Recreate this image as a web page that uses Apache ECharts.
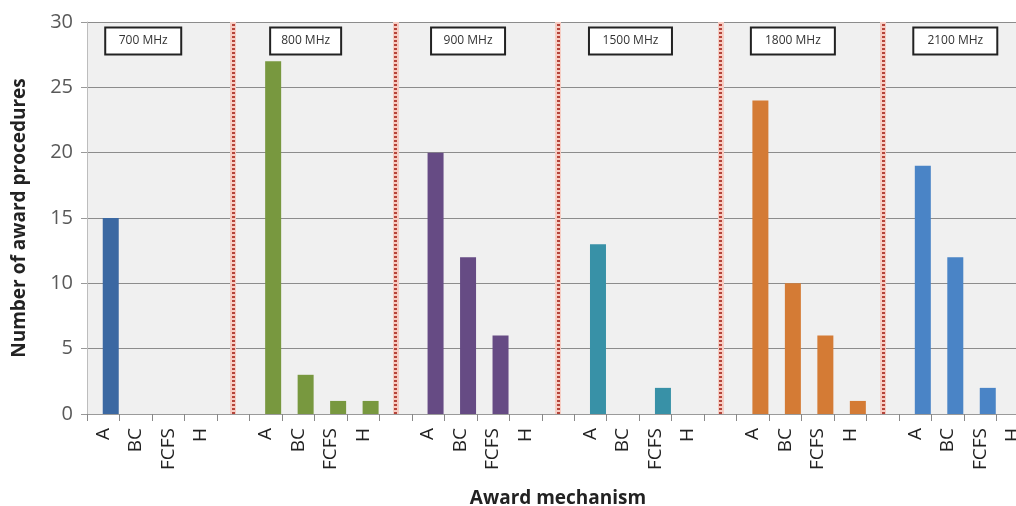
<!DOCTYPE html>
<html>
<head>
<meta charset="utf-8">
<script src="https://cdn.jsdelivr.net/npm/echarts@6/dist/echarts.min.js"></script>
<style>
html,body{margin:0;padding:0;background:#fff;}
#chart{width:1016px;height:506px;}
</style>
</head>
<body>
<div id="chart"></div>
<script>
var mechanisms = ['A', 'BC', 'FCFS', 'H'];
var bands = ['700 MHz', '800 MHz', '900 MHz', '1500 MHz', '1800 MHz', '2100 MHz'];
var v700  = [15, 0, 0, 0];
var v800  = [27, 3, 1, 1];
var v900  = [20, 12, 6, 0];
var v1500 = [13, 0, 2, 0];
var v1800 = [24, 10, 6, 1];
var v2100 = [19, 12, 2, 0];
var yTicks = [0, 5, 10, 15, 20, 25, 30];

var bandValues = [v700, v800, v900, v1500, v1800, v2100];
var colors = ['#3b68a2', '#78983f', '#664b84', '#3891a7', '#d47b35', '#4a84c6'];
var boxW = [78, 73, 76, 85, 86, 86];

var groupSize = mechanisms.length + 1;
var cats = [];
bands.forEach(function (b, bi) {
  mechanisms.forEach(function (m) { cats.push(m); });
  if (bi < bands.length - 1) cats.push('');
});

var sepData = [];
for (var i = 1; i < bands.length; i++) sepData.push({ xAxis: i * groupSize - 1 });

var series = bands.map(function (b, bi) {
  var data = cats.map(function () { return null; });
  bandValues[bi].forEach(function (v, k) { data[bi * groupSize + k] = v; });
  return {
    name: b,
    type: 'bar',
    data: data,
    barWidth: 16,
    barGap: '-100%',
    itemStyle: { color: colors[bi] },
    markPoint: {
      silent: true,
      symbol: 'circle',
      symbolSize: 0,
      label: {
        show: true, position: 'inside', formatter: b,
        color: '#333', fontSize: 12, fontFamily: 'Open Sans',
        backgroundColor: '#ffffff', borderColor: '#222222', borderWidth: 2,
        width: boxW[bi] - 4, height: 25, lineHeight: 25, align: 'center', verticalAlign: 'middle',
        padding: 0
      },
      data: [{ coord: [bi * groupSize + 1, 28.55] }]
    }
  };
});

series.push({
  type: 'bar', data: [], silent: true,
  markLine: {
    silent: true, symbol: 'none', label: { show: false },
    lineStyle: { color: '#f6cdc4', width: 6, type: 'solid' },
    data: sepData.map(function (d) { return Object.assign({}, d); })
  }
});
series.push({
  type: 'bar', data: [], silent: true,
  markLine: {
    silent: true, symbol: 'none', label: { show: false },
    lineStyle: { color: '#b5443a', width: 3, type: [2, 2] },
    data: sepData.map(function (d) { return Object.assign({}, d); })
  }
});

var chart = echarts.init(document.getElementById('chart'));
chart.setOption({
  animation: false,
  backgroundColor: '#ffffff',
  grid: { left: 87, right: -13, top: 22, bottom: 92, show: true, backgroundColor: '#f0f0f0', borderWidth: 0, outerBoundsMode: 'none', containLabel: false },
  xAxis: {
    type: 'category',
    data: cats,
    name: 'Award mechanism',
    nameLocation: 'middle',
    nameGap: 75,
    nameTextStyle: { fontSize: 19, fontWeight: 'bold', color: '#222', fontFamily: 'Open Sans' },
    axisLine: { lineStyle: { color: '#9a9a9a', width: 1 } },
    axisTick: { show: true, interval: 0, length: 7, lineStyle: { color: '#888' } },
    axisLabel: { interval: 0, rotate: 90, fontSize: 19, color: '#222', margin: 14, fontFamily: 'Open Sans' },
    splitLine: { show: false }
  },
  yAxis: {
    type: 'value',
    min: yTicks[0], max: yTicks[yTicks.length - 1], interval: yTicks[1] - yTicks[0],
    name: 'Number of award procedures',
    nameLocation: 'middle',
    nameGap: 58,
    nameTextStyle: { fontSize: 19, fontWeight: 'bold', color: '#222', fontFamily: 'Open Sans' },
    axisLine: { show: true, lineStyle: { color: '#bdbdbd' } },
    axisTick: { show: true, length: 6, lineStyle: { color: '#999' } },
    axisLabel: { fontSize: 20, color: '#595959', margin: 14, fontFamily: 'Open Sans' },
    splitLine: { show: true, lineStyle: { color: '#8c8c8c', width: 1 } }
  },
  series: series
});
</script>
</body>
</html>
